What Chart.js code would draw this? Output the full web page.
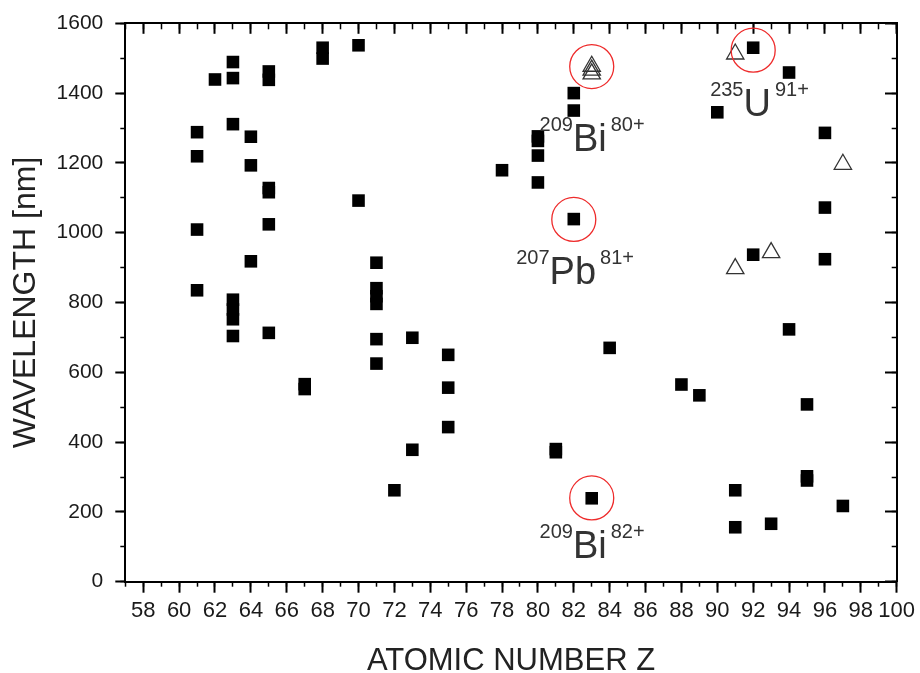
<!DOCTYPE html>
<html>
<head>
<meta charset="utf-8">
<script src="https://cdn.jsdelivr.net/npm/chart.js@4.4.1/dist/chart.umd.min.js"></script>
<style>
  html, body { margin: 0; padding: 0; background: #fff; overflow: hidden; }
  canvas { display: block; }
</style>
</head>
<body>
<canvas id="chart" width="920" height="673"></canvas>
<script>
// Measured transition wavelengths (filled squares) by atomic number Z
const squareZ = [61, 61, 61, 61, 62, 63, 63, 63, 63, 63, 63, 63, 64, 64, 64,
  65, 65, 65, 65, 65, 65, 67, 67, 68, 68, 70, 70, 71, 71, 71, 71, 71, 71, 72,
  73, 73, 75, 75, 75, 78, 80, 80, 80, 80, 81, 81, 82, 82, 82, 83, 84, 88, 89,
  90, 91, 91, 92, 92, 93, 94, 94, 95, 95, 95, 96, 96, 96, 97];
const squareWavelength = [1288, 1219, 1009, 835, 1439, 1489, 1443, 1311, 808, 780, 752, 704, 1275, 1193, 918,
  1462, 1438, 1128, 1116, 1024, 713, 566, 552, 1530, 1499, 1537, 1092, 914, 841, 818, 796, 695, 625, 262,
  699, 378, 650, 556, 443, 1179, 1276, 1263, 1221, 1144, 380, 371, 1400, 1350, 1039, 239, 670, 565, 534,
  1345, 262, 156, 1530, 937, 166, 1459, 723, 508, 302, 290, 1286, 1072, 924, 217];

// Additional transitions (open triangles)
const triangleZ = [83, 83, 83, 91, 91, 93, 97];
const triangleWavelength = [1477, 1466, 1455, 1512, 897, 943, 1196];

// Highlighted ions (red rings)
const circledZ = [83, 82, 83, 92];
const circledWavelength = [1476, 1038, 240, 1523];

// Axis ticks
const zMajorTicks = [58, 60, 62, 64, 66, 68, 70, 72, 74, 76, 78, 80, 82, 84, 86, 88, 90, 92, 94, 96, 98, 100];
const zMinorTicks = [57, 58, 59, 60, 61, 62, 63, 64, 65, 66, 67, 68, 69, 70, 71, 72, 73, 74, 75, 76, 77, 78,
  79, 80, 81, 82, 83, 84, 85, 86, 87, 88, 89, 90, 91, 92, 93, 94, 95, 96, 97, 98, 99, 100];
const wlMajorTicks = [0, 200, 400, 600, 800, 1000, 1200, 1400, 1600];
const wlMinorTicks = [0, 100, 200, 300, 400, 500, 600, 700, 800, 900, 1000, 1100, 1200, 1300, 1400, 1500, 1600];

// Ion labels: mass number, element, charge state, anchored at (Z, wavelength)
const ionLabels = [
  { mass: '209', element: 'Bi', charge: '80+', z: 81.95, wl: 1235 },
  { mass: '207', element: 'Pb', charge: '81+', z: 80.65, wl: 854 },
  { mass: '209', element: 'Bi', charge: '82+', z: 81.95, wl: 67 },
  { mass: '235', element: 'U', charge: '91+', z: 91.46, wl: 1334 }
];

const Z_MIN = 57, Z_MAX = 100, WL_MIN = 0, WL_MAX = 1600;
const SANS = '"Liberation Sans", Arial, Helvetica, sans-serif';

function fontAvailable(name) {
  const ctx = document.createElement('canvas').getContext('2d');
  ctx.font = '40px monospace';
  const ref = ctx.measureText('0123456789').width;
  ctx.font = '40px "' + name + '", monospace';
  return ctx.measureText('0123456789').width !== ref;
}
const zTickFont = fontAvailable('Liberation Sans Narrow')
  ? { family: '"Liberation Sans Narrow", ' + SANS, size: 25, lineHeight: 1 }
  : { family: SANS, size: 22, lineHeight: 1 };

function points(xs, ys) { return xs.map((x, i) => ({ x: x, y: ys[i] })); }

function setTicks(values) {
  return scale => { scale.ticks = values.map(v => ({ value: v })); };
}
function fixSize(prop, px) {
  return scale => {
    scale[prop] = px;
    scale.paddingLeft = scale.paddingRight = scale.paddingTop = scale.paddingBottom = 0;
  };
}

function axis(position, weight, size, tickValues, tickLength, tickWidth, showBorder, extra) {
  const horizontal = position === 'top' || position === 'bottom';
  return Object.assign({
    type: 'linear',
    position: position,
    weight: weight,
    min: horizontal ? Z_MIN : WL_MIN,
    max: horizontal ? Z_MAX : WL_MAX,
    afterBuildTicks: setTicks(tickValues),
    afterFit: fixSize(horizontal ? 'height' : 'width', size),
    grid: {
      display: true, drawOnChartArea: false, drawTicks: true,
      tickLength: tickLength, tickWidth: tickWidth, tickColor: '#000'
    },
    border: { display: showBorder, color: '#000', width: 2 },
    ticks: { display: false }
  }, extra || {});
}

const plotBottom = 581.7, plotTop = 22.7, plotLeft = 125.3, plotRight = 898.3;

// Draws the ion labels with mass number and charge as superscripts
const ionLabelPlugin = {
  id: 'ionLabels',
  afterDatasetsDraw(chart) {
    const ctx = chart.ctx;
    const xs = chart.scales.x, ys = chart.scales.y;
    ctx.save();
    ctx.fillStyle = '#333';
    ctx.textBaseline = 'alphabetic';
    ionLabels.forEach(l => {
      const x0 = xs.getPixelForValue(l.z);
      const y0 = ys.getPixelForValue(l.wl);
      ctx.font = '38px ' + SANS;
      ctx.textAlign = 'left';
      ctx.fillText(l.element, x0, y0);
      const w = ctx.measureText(l.element).width;
      ctx.font = '20px ' + SANS;
      ctx.textAlign = 'right';
      ctx.fillText(l.mass, x0, y0 - 20);
      ctx.textAlign = 'left';
      ctx.fillText(l.charge, x0 + w + 4, y0 - 20);
    });
    ctx.restore();
  }
};

new Chart(document.getElementById('chart'), {
  type: 'scatter',
  data: {
    datasets: [
      {
        label: 'highlighted',
        data: points(circledZ, circledWavelength),
        pointStyle: 'circle', pointRadius: 22,
        backgroundColor: 'rgba(0,0,0,0)', borderColor: '#ee2b2b', borderWidth: 1.3,
        clip: false
      },
      {
        label: 'triangles',
        data: points(triangleZ, triangleWavelength),
        pointStyle: 'triangle', pointRadius: 10,
        backgroundColor: 'rgba(0,0,0,0)', borderColor: '#333', borderWidth: 1.3,
        clip: false
      },
      {
        label: 'squares',
        data: points(squareZ, squareWavelength),
        pointStyle: 'rect', pointRadius: 8.9,
        backgroundColor: '#000', borderWidth: 0,
        clip: false
      }
    ]
  },
  options: {
    responsive: false,
    animation: false,
    events: [],
    devicePixelRatio: 1,
    layout: { padding: 0 },
    plugins: { legend: { display: false }, tooltip: { enabled: false } },
    scales: {
      x: axis('bottom', 1, 673 - plotBottom, zMajorTicks, 11, 2, true, {
        ticks: {
          display: true, autoSkip: false, maxRotation: 0, minRotation: 0,
          padding: zTickFont.size === 25 ? 6 : 7.5, color: '#1a1a1a', font: zTickFont,
          callback: v => String(v)
        },
        title: {
          display: true, text: 'ATOMIC NUMBER Z', color: '#222',
          font: { family: SANS, size: 31, lineHeight: 0.77 }, padding: { top: 0, bottom: 0 }
        }
      }),
      xMinor: axis('bottom', 0, 0, zMinorTicks, 5, 1.5, false),
      xTop: axis('top', 1, plotTop, zMajorTicks, -10.5, 2, true),
      xTopMinor: axis('top', 0, 0, zMinorTicks, -6, 1.5, false),
      y: axis('left', 1, plotLeft, wlMajorTicks, 10, 2, true, {
        ticks: {
          display: true, autoSkip: false, padding: 12, color: '#1a1a1a',
          font: { family: SANS, size: 21, lineHeight: 1 },
          callback: v => String(v)
        },
        title: {
          display: true, text: 'WAVELENGTH [nm]', color: '#222',
          font: { family: SANS, size: 32, lineHeight: 1 }, padding: { top: 10, bottom: 0 }
        }
      }),
      yMinor: axis('left', 0, 0, wlMinorTicks, 5, 1.5, false),
      yRight: axis('right', 1, 920 - plotRight, wlMajorTicks, -11.7, 2, true),
      yRightMinor: axis('right', 0, 0, wlMinorTicks, -5, 1.5, false)
    }
  },
  plugins: [ionLabelPlugin]
});
</script>
</body>
</html>
